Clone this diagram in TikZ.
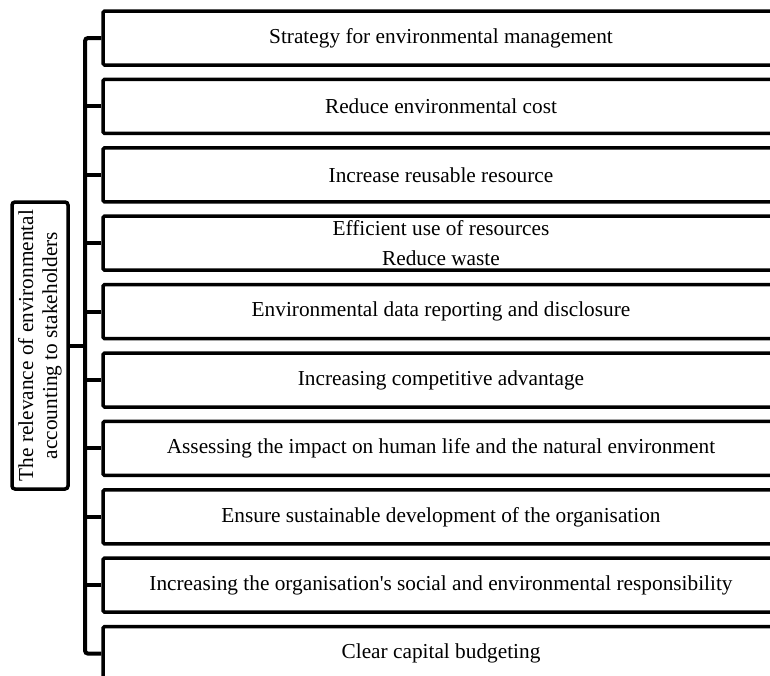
\documentclass[tikz,border=0pt]{standalone}
\usepackage{fontspec}
\setmainfont{Liberation Serif}
\usepackage{tikz}
\tikzset{
x=1pt, y=1pt, % one unit is one point
node distance=68.4pt, % distance between the centres of two item boxes
itembox/.style={draw, line width=3.5pt, rounded corners=1.5pt, minimum width=676pt, minimum height=54pt, align=center, font=\fontsize{21.3}{30}\selectfont}, % the boxes on the right
rootbox/.style={draw, line width=3.5pt, rounded corners=3pt, minimum width=287pt, minimum height=56pt, align=center, font=\fontsize{21.3}{24}\selectfont}, % the box on the left
bracket/.style={line width=4pt, rounded corners=3pt}, % the connecting lines
}
\begin{document}
\begin{tikzpicture}
            \clip (0,0) rectangle (770,-675);

            \node[rootbox, rotate=90] (root) at (40,-345.5) {The relevance of environmental\\accounting to stakeholders};

            \node[itembox] (b0) at (441,-38) {Strategy for environmental management};
            \node[itembox, below of=b0] (b1) {Reduce environmental cost};
            \node[itembox, below of=b1] (b2) {Increase reusable resource};
            \node[itembox, below of=b2] (b3) {Efficient use of resources\\Reduce waste};
            \node[itembox, below of=b3] (b4) {Environmental data reporting and disclosure};
            \node[itembox, below of=b4] (b5) {Increasing competitive advantage};
            \node[itembox, below of=b5] (b6) {Assessing the impact on human life and the natural environment};
            \node[itembox, below of=b6] (b7) {Ensure sustainable development of the organisation};
            \node[itembox, below of=b7] (b8) {Increasing the organisation\textquotesingle s social and environmental responsibility};
            \node[itembox, below of=b8] (b9) {Clear capital budgeting};

            \coordinate (spine) at (85,0);

            \draw[bracket] (b0.west) -| (spine |- b9.west) -- (b9.west);
            \foreach \i in {1,...,8}
                \draw[bracket] (b\i.west) -- (spine |- b\i.west);
            \draw[bracket] (root.south) -- (spine |- root.south);
        \end{tikzpicture}
\end{document}
